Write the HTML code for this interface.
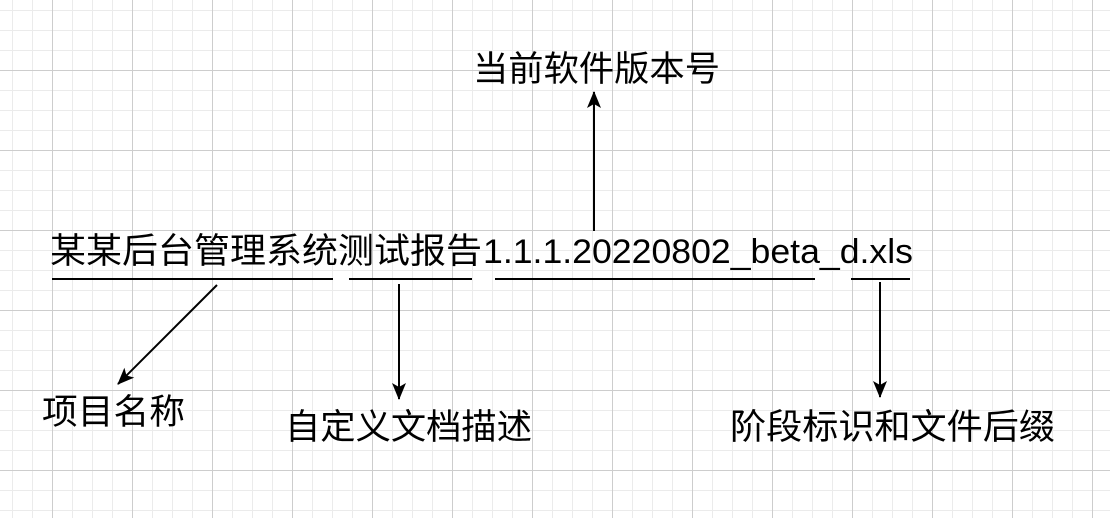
<!DOCTYPE html>
<html><head><meta charset="utf-8"><style>
html,body{margin:0;padding:0;background:#fff;}
svg{display:block}
text{font-family:"Liberation Sans","Noto Sans CJK SC",sans-serif;fill:#000;}
</style></head><body>
<svg width="1110" height="518" viewBox="0 0 1110 518" xmlns="http://www.w3.org/2000/svg">
<defs>
<marker id="ah" markerWidth="18" markerHeight="16" refX="16" refY="8" orient="auto" markerUnits="userSpaceOnUse">
<path d="M0,1 L17,8 L0,15 L4,8 Z" fill="#000"/>
</marker>
</defs>
<g stroke="#ebebeb" stroke-width="1">
<path d="M12.5 0V518M32.5 0V518M72.5 0V518M92.5 0V518M112.5 0V518M152.5 0V518M172.5 0V518M192.5 0V518M232.5 0V518M252.5 0V518M272.5 0V518M312.5 0V518M332.5 0V518M352.5 0V518M392.5 0V518M412.5 0V518M432.5 0V518M472.5 0V518M492.5 0V518M512.5 0V518M552.5 0V518M572.5 0V518M592.5 0V518M632.5 0V518M652.5 0V518M672.5 0V518M712.5 0V518M732.5 0V518M752.5 0V518M792.5 0V518M812.5 0V518M832.5 0V518M872.5 0V518M892.5 0V518M912.5 0V518M952.5 0V518M972.5 0V518M992.5 0V518M1032.5 0V518M1052.5 0V518M1072.5 0V518"/>
<path d="M0 10.5H1110M0 30.5H1110M0 50.5H1110M0 90.5H1110M0 110.5H1110M0 130.5H1110M0 170.5H1110M0 190.5H1110M0 210.5H1110M0 250.5H1110M0 270.5H1110M0 290.5H1110M0 330.5H1110M0 350.5H1110M0 370.5H1110M0 410.5H1110M0 430.5H1110M0 450.5H1110M0 490.5H1110M0 510.5H1110"/>
</g>
<g stroke="#cdcdcd" stroke-width="1">
<path d="M52.5 0V518M132.5 0V518M212.5 0V518M292.5 0V518M372.5 0V518M452.5 0V518M532.5 0V518M612.5 0V518M692.5 0V518M772.5 0V518M852.5 0V518M932.5 0V518M1012.5 0V518M1092.5 0V518"/>
<path d="M0 70.5H1110M0 150.5H1110M0 230.5H1110M0 310.5H1110M0 390.5H1110M0 470.5H1110"/>
</g>

<text x="50" y="263" font-size="35" textLength="432" lengthAdjust="spacingAndGlyphs">某某后台管理系统测试报告</text>
<text x="483" y="263" font-size="34" textLength="430" lengthAdjust="spacingAndGlyphs">1.1.1.20220802_beta_d.xls</text>

<g stroke="#000" stroke-width="2">
<line x1="52" y1="279" x2="333" y2="279"/>
<line x1="349" y1="279" x2="472" y2="279"/>
<line x1="495" y1="279" x2="815" y2="279"/>
<line x1="851" y1="279" x2="910" y2="279"/>
<line x1="594" y1="231" x2="594" y2="92" marker-end="url(#ah)"/>
<line x1="217" y1="285" x2="118" y2="384" marker-end="url(#ah)"/>
<line x1="399" y1="284" x2="399" y2="399" marker-end="url(#ah)"/>
<line x1="880" y1="282" x2="880" y2="397" marker-end="url(#ah)"/>
</g>

<text x="473" y="81" font-size="35" textLength="247" lengthAdjust="spacingAndGlyphs">当前软件版本号</text>
<text x="42" y="424" font-size="35" textLength="143" lengthAdjust="spacingAndGlyphs">项目名称</text>
<text x="285" y="439" font-size="35" textLength="247" lengthAdjust="spacingAndGlyphs">自定义文档描述</text>
<text x="730" y="439" font-size="35" textLength="325" lengthAdjust="spacingAndGlyphs">阶段标识和文件后缀</text>
</svg>
</body></html>
